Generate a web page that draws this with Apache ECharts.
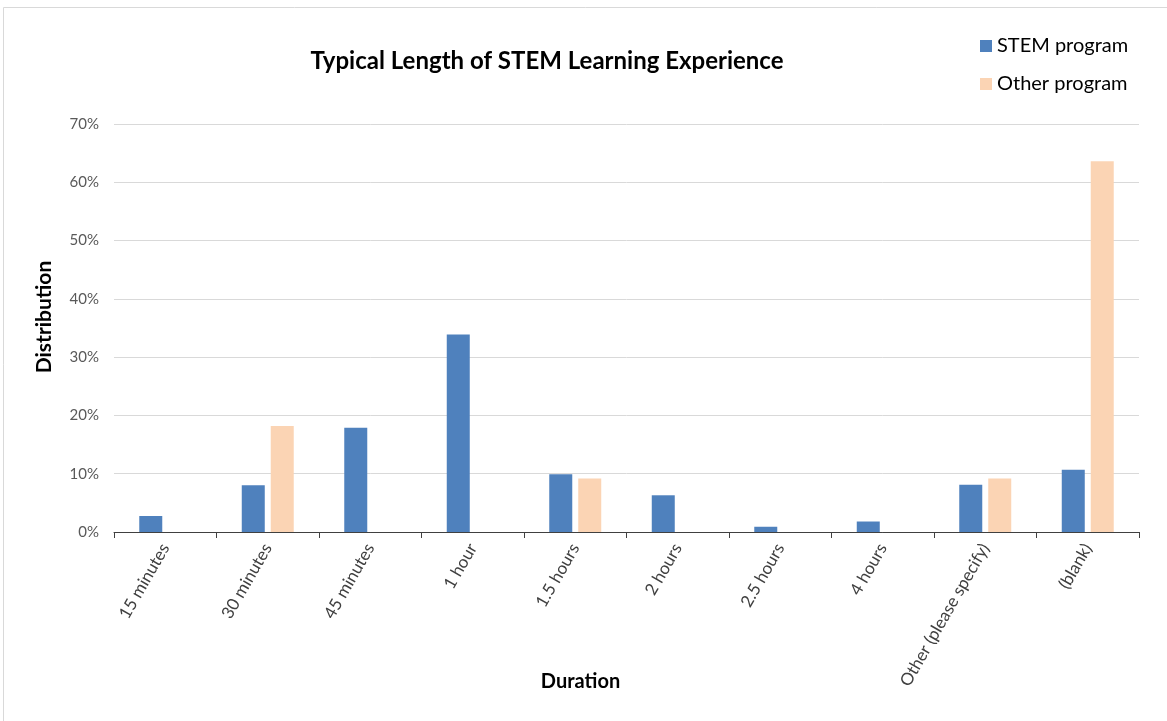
<!DOCTYPE html>
<html>
<head>
<meta charset="utf-8">
<script src="https://cdn.jsdelivr.net/npm/echarts@6/dist/echarts.min.js"></script>
<style>
html, body { margin: 0; padding: 0; background: #fff; overflow: hidden; }
#chart { width: 1167px; height: 721px; }
</style>
</head>
<body>
<div id="chart"></div>
<script>
// categories on the x axis
const durations = ['15 minutes', '30 minutes', '45 minutes', '1 hour', '1.5 hours',
	'2 hours', '2.5 hours', '4 hours', 'Other (please specify)', '(blank)']
// share of responses, in percent
const stemProgram = [2.75, 8.0, 17.9, 33.9, 9.9, 6.3, 0.9, 1.8, 8.1, 10.7]
const otherProgram = [null, 18.2, null, null, 9.2, null, null, null, 9.2, 63.6]
const yTicks = [0, 10, 20, 30, 40, 50, 60, 70]

const font = 'Lato, "Open Sans", sans-serif'
const mychart = echarts.init(document.getElementById('chart'))

mychart.setOption({
	animation: false,
	textStyle: { fontFamily: font },
	graphic: [
		{
			// thin frame round the chart area
			type: 'rect',
			shape: { x: 3.5, y: 7.5, width: 1300, height: 900 },
			style: { fill: 'none', stroke: '#d9d9d9', lineWidth: 1 },
			silent: true,
		},
	],
	title: {
		text: 'Typical Length of STEM Learning Experience',
		left: 542,
		top: 44,
		textAlign: 'center',
		textStyle: { fontFamily: font, fontSize: 24, fontWeight: 'bold', color: '#000' },
	},
	legend: {
		orient: 'vertical',
		left: 975,
		top: 31,
		itemWidth: 12,
		itemHeight: 12,
		itemGap: 18,
		icon: 'rect',
		textStyle: { fontFamily: font, fontSize: 20, color: '#000' },
		data: ['STEM program', 'Other program'],
	},
	grid: {
		left: 114,
		right: 28,
		top: 124,
		bottom: 189,
	},
	xAxis: {
		type: 'category',
		data: durations,
		name: 'Duration',
		nameLocation: 'middle',
		nameGap: 140,
		nameMoveOverlap: false,
		nameTextStyle: {
			fontFamily: font, fontSize: 20, fontWeight: 'bold', color: '#000',
			padding: [0, 92, 0, 0],
		},
		axisLine: { lineStyle: { color: '#404040', width: 1 } },
		axisTick: { show: true, length: 6, lineStyle: { color: '#404040' } },
		axisLabel: {
			rotate: 60,
			interval: 0,
			margin: 13,
			fontFamily: font,
			fontSize: 17,
			color: '#404040',
		},
	},
	yAxis: {
		type: 'value',
		min: yTicks[0],
		max: yTicks[yTicks.length - 1],
		interval: 10,
		name: 'Distribution',
		nameLocation: 'middle',
		nameGap: 59,
		nameMoveOverlap: false,
		nameTextStyle: {
			fontFamily: font, fontSize: 21, fontWeight: 'bold', color: '#000',
			padding: [0, 0, 0, 22],
		},
		axisLine: { show: false },
		axisTick: { show: false },
		axisLabel: {
			margin: 15,
			fontFamily: font,
			fontSize: 15,
			color: '#595959',
			formatter: (v) => v + '%',
		},
		splitLine: { lineStyle: { color: '#d9d9d9', width: 1 } },
	},
	series: [
		{
			name: 'STEM program',
			type: 'bar',
			data: stemProgram,
			barWidth: 23,
			barGap: '26%',
			itemStyle: { color: '#4f81bd' },
		},
		{
			name: 'Other program',
			type: 'bar',
			data: otherProgram,
			barWidth: 23,
			barGap: '26%',
			itemStyle: { color: '#fbd4b4' },
		},
	],
})
</script>
</body>
</html>
